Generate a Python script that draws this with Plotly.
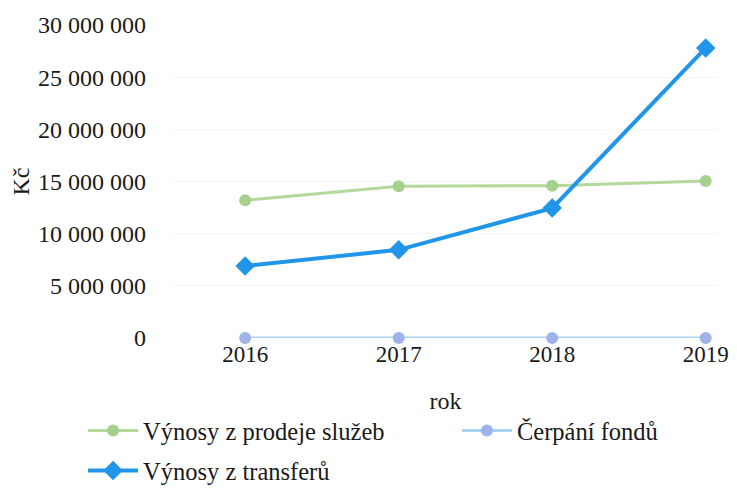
import plotly.graph_objects as go

roky = ["2016", "2017", "2018", "2019"]
sluzby = [13200000, 14550000, 14600000, 15050000]
fondy = [0, 0, 0, 0]
transfery = [6900000, 8450000, 12450000, 27800000]

FONT = "Liberation Serif"

fig = go.Figure()

fig.add_trace(go.Scatter(
    x=roky, y=sluzby, name="Výnosy z prodeje služeb",
    mode="lines+markers",
    line=dict(color="#b4d89a", width=3),
    marker=dict(symbol="circle", size=12, color="#a8d08d"),
    legend="legend", legendgroup="a", cliponaxis=False,
))
fig.add_trace(go.Scatter(
    x=roky, y=fondy, name="Čerpání fondů",
    mode="lines+markers",
    line=dict(color="#a9d3f0", width=3),
    marker=dict(symbol="circle", size=12, color="#9fb2ea"),
    legend="legend2", cliponaxis=False,
))
fig.add_trace(go.Scatter(
    x=roky, y=transfery, name="Výnosy z transferů",
    mode="lines+markers",
    line=dict(color="#2196e8", width=4),
    marker=dict(symbol="diamond", size=15, color="#2196e8"),
    legend="legend", legendgroup="b", cliponaxis=False,
))

# page body keeps its 8px margin, so the figure is 8px smaller
fig.update_layout(
    width=729, height=483,
    margin=dict(l=165, r=19, t=17, b=153, autoexpand=False),
    paper_bgcolor="white", plot_bgcolor="white",
    font=dict(family=FONT, size=24, color="#1a1a1a"),
    separators=", ",
    legend=dict(
        x=-0.165, y=-0.224, xanchor="left", yanchor="top",
        orientation="v", tracegroupgap=5, itemwidth=50,
        font=dict(family=FONT, size=24.5), bgcolor="rgba(0,0,0,0)",
    ),
    legend2=dict(
        x=0.521, y=-0.224, xanchor="left", yanchor="top",
        orientation="v", itemwidth=50,
        font=dict(family=FONT, size=24.5), bgcolor="rgba(0,0,0,0)",
    ),
    xaxis=dict(
        type="category", range=[-0.47, 3.08], automargin=False,
        showgrid=False, showline=False, zeroline=False,
        ticks="", tickfont=dict(size=23),
        title=dict(text="rok", font=dict(size=24), standoff=26),
    ),
    yaxis=dict(
        range=[0, 30000000], dtick=5000000, tickformat=",d", automargin=False,
        showgrid=True, gridcolor="#f5f5f5", gridwidth=1,
        zeroline=False, showline=False, ticks="",
        tickfont=dict(size=24), ticklabelstandoff=26,
        title=dict(text="Kč", font=dict(size=24), standoff=10),
    ),
)

fig.write_html("out.html")
